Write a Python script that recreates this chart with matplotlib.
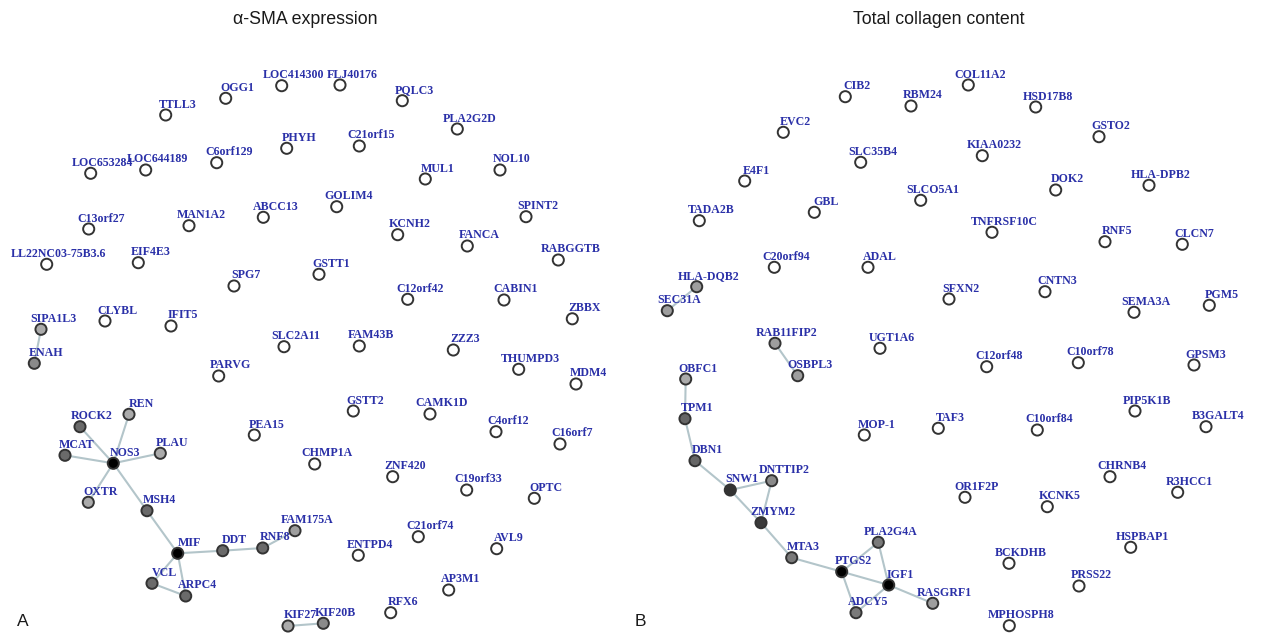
import matplotlib.pyplot as plt

# node layout (pixel coords) and fill shade for each network
A_NAMES = ["OGG1", "LOC414300", "FLJ40176", "PQLC3", "TTLL3", "PLA2G2D", "PHYH", "C21orf15",
           "C6orf129", "LOC653284", "LOC644189", "MUL1", "NOL10", "GOLIM4", "ABCC13", "MAN1A2",
           "C13orf27", "SPINT2", "KCNH2", "FANCA", "RABGGTB", "LL22NC03-75B3.6", "EIF4E3",
           "GSTT1", "SPG7", "C12orf42", "CABIN1", "ZBBX", "SIPA1L3", "CLYBL", "IFIT5", "ENAH",
           "SLC2A11", "FAM43B", "ZZZ3", "PARVG", "THUMPD3", "MDM4", "REN", "ROCK2", "PEA15",
           "GSTT2", "CAMK1D", "MCAT", "NOS3", "PLAU", "C4orf12", "C16orf7", "CHMP1A", "ZNF420",
           "OXTR", "MSH4", "C19orf33", "OPTC", "FAM175A", "C21orf74", "ENTPD4", "AVL9", "MIF",
           "DDT", "RNF8", "VCL", "ARPC4", "AP3M1", "RFX6", "KIF27", "KIF20B"]
A_X = [225.7, 281.7, 340.0, 402.3, 165.7, 457.3, 286.7, 359.3, 216.7, 90.7, 145.7, 425.3, 500.0,
       336.7, 263.3, 189.0, 88.7, 526.0, 397.7, 467.3, 558.3, 46.7, 138.3, 319.0, 234.0, 407.7,
       504.0, 572.3, 41.0, 105.0, 171.0, 34.3, 284.0, 359.3, 453.3, 218.7, 518.7, 576.0, 129.0,
       80.0, 254.3, 353.3, 430.0, 65.0, 113.3, 160.3, 496.0, 560.0, 314.7, 392.7, 88.3, 147.0,
       466.7, 534.3, 295.0, 418.3, 358.3, 496.7, 177.7, 222.7, 262.7, 152.0, 185.7, 448.7, 390.7,
       288.0, 323.3]
A_Y = [98.3, 85.7, 85.0, 100.7, 115.0, 129.0, 148.3, 146.0, 162.7, 173.3, 170.0, 179.0, 170.0,
       206.7, 217.3, 225.7, 229.0, 216.7, 234.7, 246.0, 260.0, 264.3, 262.7, 274.3, 286.0, 299.3,
       300.0, 318.8, 329.3, 321.0, 326.0, 363.3, 346.7, 346.0, 350.0, 376.0, 369.3, 384.0, 414.3,
       426.7, 435.0, 411.0, 414.0, 455.3, 463.3, 453.3, 431.7, 444.0, 464.0, 476.7, 502.3, 510.7,
       490.0, 498.3, 530.7, 536.7, 555.3, 548.7, 553.3, 550.7, 548.0, 583.3, 596.0, 590.0, 612.7,
       626.0, 623.3]
A_SHADE = {"SIPA1L3": "#ababab", "ENAH": "#8a8a8a", "REN": "#ababab", "ROCK2": "#6a6a6a",
           "MCAT": "#6a6a6a", "NOS3": "#000000", "PLAU": "#ababab", "OXTR": "#ababab",
           "MSH4": "#6a6a6a", "MIF": "#000000", "DDT": "#6a6a6a", "RNF8": "#6a6a6a",
           "FAM175A": "#9e9e9e", "VCL": "#6a6a6a", "ARPC4": "#6a6a6a", "KIF27": "#ababab",
           "KIF20B": "#8a8a8a"}
A_EDGES = [("SIPA1L3", "ENAH"), ("NOS3", "REN"), ("NOS3", "ROCK2"), ("NOS3", "MCAT"),
           ("NOS3", "PLAU"), ("NOS3", "OXTR"), ("NOS3", "MSH4"), ("MSH4", "MIF"),
           ("MIF", "DDT"), ("DDT", "RNF8"), ("RNF8", "FAM175A"), ("MIF", "VCL"),
           ("MIF", "ARPC4"), ("VCL", "ARPC4"), ("KIF27", "KIF20B")]

B_NAMES = ["CIB2", "RBM24", "COL11A2", "HSD17B8", "EVC2", "GSTO2", "SLC35B4", "KIAA0232", "E4F1",
           "DOK2", "HLA-DPB2", "SLCO5A1", "GBL", "TADA2B", "TNFRSF10C", "RNF5", "CLCN7",
           "C20orf94", "ADAL", "HLA-DQB2", "SFXN2", "CNTN3", "SEC31A", "SEMA3A", "PGM5",
           "RAB11FIP2", "UGT1A6", "OBFC1", "OSBPL3", "C12orf48", "C10orf78", "GPSM3", "TPM1",
           "PIP5K1B", "MOP-1", "TAF3", "C10orf84", "B3GALT4", "DBN1", "DNTTIP2", "SNW1",
           "CHRNB4", "R3HCC1", "OR1F2P", "KCNK5", "ZMYM2", "PLA2G4A", "HSPBAP1", "MTA3",
           "BCKDHB", "PTGS2", "IGF1", "PRSS22", "RASGRF1", "ADCY5", "MPHOSPH8"]
B_X = [845.3, 911.0, 968.3, 1035.7, 783.3, 1099.0, 860.7, 982.3, 744.7, 1055.7, 1149.0, 920.7,
       814.3, 699.3, 992.0, 1105.0, 1182.3, 774.3, 868.0, 696.7, 949.0, 1045.0, 667.3, 1134.0,
       1209.3, 775.0, 880.0, 685.7, 797.7, 986.7, 1078.3, 1194.0, 685.0, 1135.0, 864.3, 938.3,
       1037.3, 1206.0, 695.0, 771.7, 730.3, 1110.0, 1177.7, 965.0, 1047.3, 761.0, 878.3, 1130.7,
       791.7, 1009.0, 841.7, 888.7, 1079.0, 932.7, 856.0, 1009.3]
B_Y = [96.7, 106.0, 85.0, 107.0, 132.3, 136.7, 162.3, 155.7, 181.0, 190.0, 185.3, 200.3, 212.3,
       220.7, 232.3, 241.7, 244.3, 267.3, 267.3, 286.7, 299.0, 291.7, 310.7, 312.3, 305.3, 343.3,
       348.3, 379.0, 375.7, 366.7, 362.7, 365.0, 418.7, 411.0, 435.0, 428.3, 430.0, 426.7, 460.7,
       480.7, 490.0, 476.7, 492.3, 497.3, 506.7, 522.7, 542.3, 547.3, 557.7, 563.3, 571.7, 585.0,
       586.0, 603.3, 612.7, 625.7]
B_SHADE = {"HLA-DQB2": "#9e9e9e", "SEC31A": "#9e9e9e", "RAB11FIP2": "#9e9e9e",
           "OSBPL3": "#9e9e9e", "OBFC1": "#ababab", "TPM1": "#666666", "DBN1": "#666666",
           "SNW1": "#333333", "DNTTIP2": "#8a8a8a", "ZMYM2": "#3a3a3a", "MTA3": "#7a7a7a",
           "PTGS2": "#000000", "IGF1": "#000000", "PLA2G4A": "#7a7a7a", "ADCY5": "#7a7a7a",
           "RASGRF1": "#9e9e9e"}
B_EDGES = [("HLA-DQB2", "SEC31A"), ("RAB11FIP2", "OSBPL3"), ("OBFC1", "TPM1"), ("TPM1", "DBN1"),
           ("DBN1", "SNW1"), ("SNW1", "DNTTIP2"), ("SNW1", "ZMYM2"), ("DNTTIP2", "ZMYM2"),
           ("ZMYM2", "MTA3"), ("MTA3", "PTGS2"), ("PTGS2", "PLA2G4A"), ("PTGS2", "IGF1"),
           ("PTGS2", "ADCY5"), ("IGF1", "PLA2G4A"), ("IGF1", "ADCY5"), ("IGF1", "RASGRF1")]

TITLES = ["\u03b1-SMA expression", "Total collagen content"]
LETTERS = ["A", "B"]

EDGE_COLOR = "#b3c5ca"
LABEL_COLOR = "#2a30a8"

fig = plt.figure(figsize=(12.61, 6.35), dpi=100)
ax = fig.add_axes([0, 0, 1, 1])
ax.set_xlim(0, 1261)
ax.set_ylim(635, 0)
ax.axis("off")


def draw_network(names, xs, ys, shades, edges):
    pos = {n: (x, y) for n, x, y in zip(names, xs, ys)}
    for a, b in edges:
        ax.plot([pos[a][0], pos[b][0]], [pos[a][1], pos[b][1]], color=EDGE_COLOR, lw=1.5,
                zorder=1, solid_capstyle="round")
    fills = [shades.get(n, "white") for n in names]
    ax.scatter(xs, ys, s=64, c=fills, edgecolors="#333333", linewidths=1.4, zorder=2)
    # labels sit above each node, centred a little to its right
    for n, x, y in zip(names, xs, ys):
        ax.text(x + 12, y - 7.5, n, color=LABEL_COLOR, fontsize=8.6, fontweight="bold",
                family="Liberation Serif", ha="center", va="baseline", zorder=3)


draw_network(A_NAMES, A_X, A_Y, A_SHADE, A_EDGES)
draw_network(B_NAMES, B_X, B_Y, B_SHADE, B_EDGES)

for title, tx in zip(TITLES, [305, 939]):
    ax.text(tx, 20, title, fontsize=12.8, family="Liberation Sans", ha="center", va="center",
            color="#1a1a1a")
for letter, lx in zip(LETTERS, [23, 640]):
    ax.text(lx, 622, letter, fontsize=12.5, family="Liberation Sans", ha="center", va="center",
            color="#1a1a1a")

fig.savefig("out.png", dpi=100)
